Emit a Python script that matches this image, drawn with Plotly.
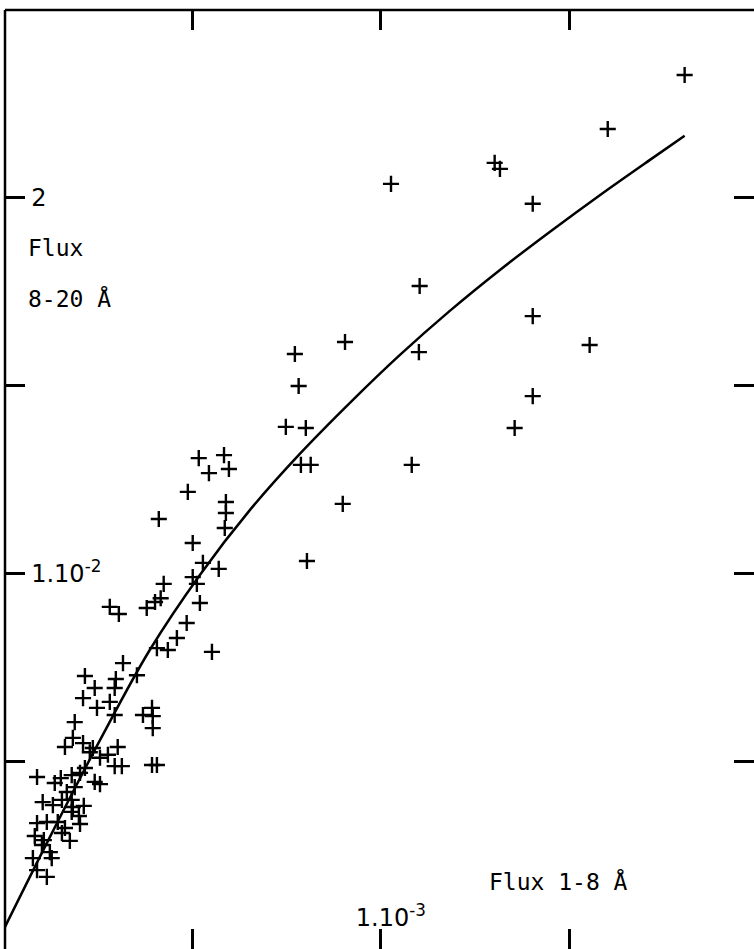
import plotly.graph_objects as go

# Flux 1-8 Å in units of 1e-3 ; Flux 8-20 Å in units of 1e-2
flux_1_8 = [
    1.806, 1.602, 1.302, 1.316, 1.027, 1.403, 1.103, 0.905, 0.772, 1.101,
    1.554, 0.782, 1.403, 1.403, 1.355, 0.748, 0.801, 0.788, 0.814, 1.082,
    0.899, 0.804,
    0.517, 0.584, 0.544, 0.597, 0.488, 0.589, 0.589, 0.411, 0.586, 0.501,
    0.528, 0.570, 0.501, 0.512, 0.424, 0.416, 0.401, 0.379, 0.520, 0.281,
    0.305, 0.485, 0.459, 0.552, 0.406, 0.435, 0.316,
    0.215, 0.297, 0.353, 0.241, 0.294, 0.210, 0.281, 0.247, 0.294, 0.369,
    0.393, 0.395, 0.395, 0.188, 0.183, 0.162, 0.210, 0.236, 0.302, 0.276,
    0.255, 0.393, 0.406, 0.228, 0.294, 0.313, 0.088, 0.135, 0.151, 0.180,
    0.202, 0.188, 0.215, 0.241, 0.255, 0.167, 0.103, 0.130, 0.154, 0.180,
    0.183, 0.212, 0.180, 0.199, 0.202, 0.088, 0.114, 0.143, 0.162, 0.082,
    0.106, 0.154, 0.175, 0.101, 0.122, 0.077, 0.127, 0.088, 0.114,
]
flux_8_20 = [
    2.327, 2.183, 2.093, 2.077, 2.037, 1.984, 1.765, 1.616, 1.584, 1.589,
    1.608, 1.499, 1.685, 1.472, 1.387, 1.390, 1.387, 1.289, 1.289, 1.289,
    1.185, 1.033,
    1.307, 1.315, 1.267, 1.278, 1.217, 1.190, 1.161, 1.145, 1.121, 1.081,
    1.028, 1.012, 0.990, 0.972, 0.972, 0.934, 0.924, 0.908, 0.921, 0.911,
    0.892, 0.868, 0.828, 0.791, 0.801, 0.796, 0.761,
    0.727, 0.719, 0.729, 0.695, 0.695, 0.668, 0.658, 0.642, 0.623, 0.623,
    0.642, 0.620, 0.588, 0.604, 0.562, 0.538, 0.548, 0.535, 0.538, 0.517,
    0.509, 0.490, 0.490, 0.524, 0.487, 0.487, 0.458, 0.442, 0.455, 0.463,
    0.469, 0.431, 0.482, 0.445, 0.439, 0.418, 0.391, 0.383, 0.397, 0.397,
    0.378, 0.381, 0.365, 0.354, 0.333, 0.335, 0.338, 0.338, 0.322, 0.301,
    0.290, 0.309, 0.288, 0.277, 0.258, 0.242, 0.242, 0.210, 0.192,
]

# fitted relation drawn through the points
curve_x = [0.003, 0.122, 0.255, 0.387, 0.520, 0.653, 0.785, 0.918, 1.050,
           1.183, 1.316, 1.448, 1.581, 1.714, 1.806]
curve_y = [0.059, 0.298, 0.556, 0.796, 0.996, 1.169, 1.318, 1.454, 1.581,
           1.699, 1.808, 1.909, 2.007, 2.101, 2.165]

x_tick_vals = [0.5, 1.0, 1.5]
x_tick_text = ["", "1.10<sup>-3</sup>", ""]
y_tick_vals = [0.5, 1.0, 1.5, 2.0]
y_tick_text = ["", "1.10<sup>-2</sup>", "", "2"]

FONT = "DejaVu Sans"
LABEL_FONT = "DejaVu Sans Mono"
fig = go.Figure()
fig.add_trace(go.Scatter(
    x=curve_x, y=curve_y, mode="lines",
    line=dict(color="black", width=2.5, shape="spline", smoothing=1.0),
    hoverinfo="skip", showlegend=False))
fig.add_trace(go.Scatter(
    x=flux_1_8, y=flux_8_20, mode="markers",
    marker=dict(symbol="cross-thin", size=11.5, color="black",
                line=dict(color="black", width=2.4)),
    showlegend=False))

fig.update_layout(
    width=754, height=949,
    margin=dict(l=5, r=0, t=10, b=0),
    paper_bgcolor="white", plot_bgcolor="white",
    font=dict(family=FONT, color="black", size=23),
    xaxis=dict(range=[0.003, 1.99], tickvals=x_tick_vals, ticktext=x_tick_text,
               ticks="inside", ticklen=20, tickwidth=2.5, tickcolor="black",
               mirror="ticks", ticklabelposition="inside", ticklabelshift=10,
               showgrid=False, zeroline=False, showline=False,
               tickfont=dict(family=FONT, size=24, color="black")),
    yaxis=dict(range=[0, 2.5], tickvals=y_tick_vals, ticktext=y_tick_text,
               ticks="inside", ticklen=20, tickwidth=2.5, tickcolor="black",
               mirror="ticks", ticklabelposition="inside", ticklabelstandoff=8,
               showgrid=False, zeroline=False, showline=False,
               tickfont=dict(family=FONT, size=24, color="black")),
    shapes=[
        dict(type="line", xref="paper", yref="paper", x0=0, x1=0, y0=0, y1=1,
             line=dict(color="black", width=2.5)),
        dict(type="line", xref="paper", yref="paper", x0=0, x1=1, y0=1, y1=1,
             line=dict(color="black", width=2.5)),
    ],
    annotations=[
        dict(text="Flux", xref="paper", yref="paper", x=0.028, y=0.7465,
             xanchor="left", yanchor="middle", showarrow=False,
             font=dict(family=LABEL_FONT, size=23, color="black")),
        dict(text="8-20 Å", xref="paper", yref="paper", x=0.028, y=0.693,
             xanchor="left", yanchor="middle", showarrow=False,
             font=dict(family=LABEL_FONT, size=23, color="black")),
        dict(text="Flux 1-8 Å", xref="paper", yref="paper", x=0.6435, y=0.0724,
             xanchor="left", yanchor="middle", showarrow=False,
             font=dict(family=LABEL_FONT, size=23, color="black")),
    ],
)

fig.write_html(
    "out.html",
    config={"displayModeBar": False},
    post_script="document.body.style.margin='0';document.body.style.overflow='hidden';",
)
